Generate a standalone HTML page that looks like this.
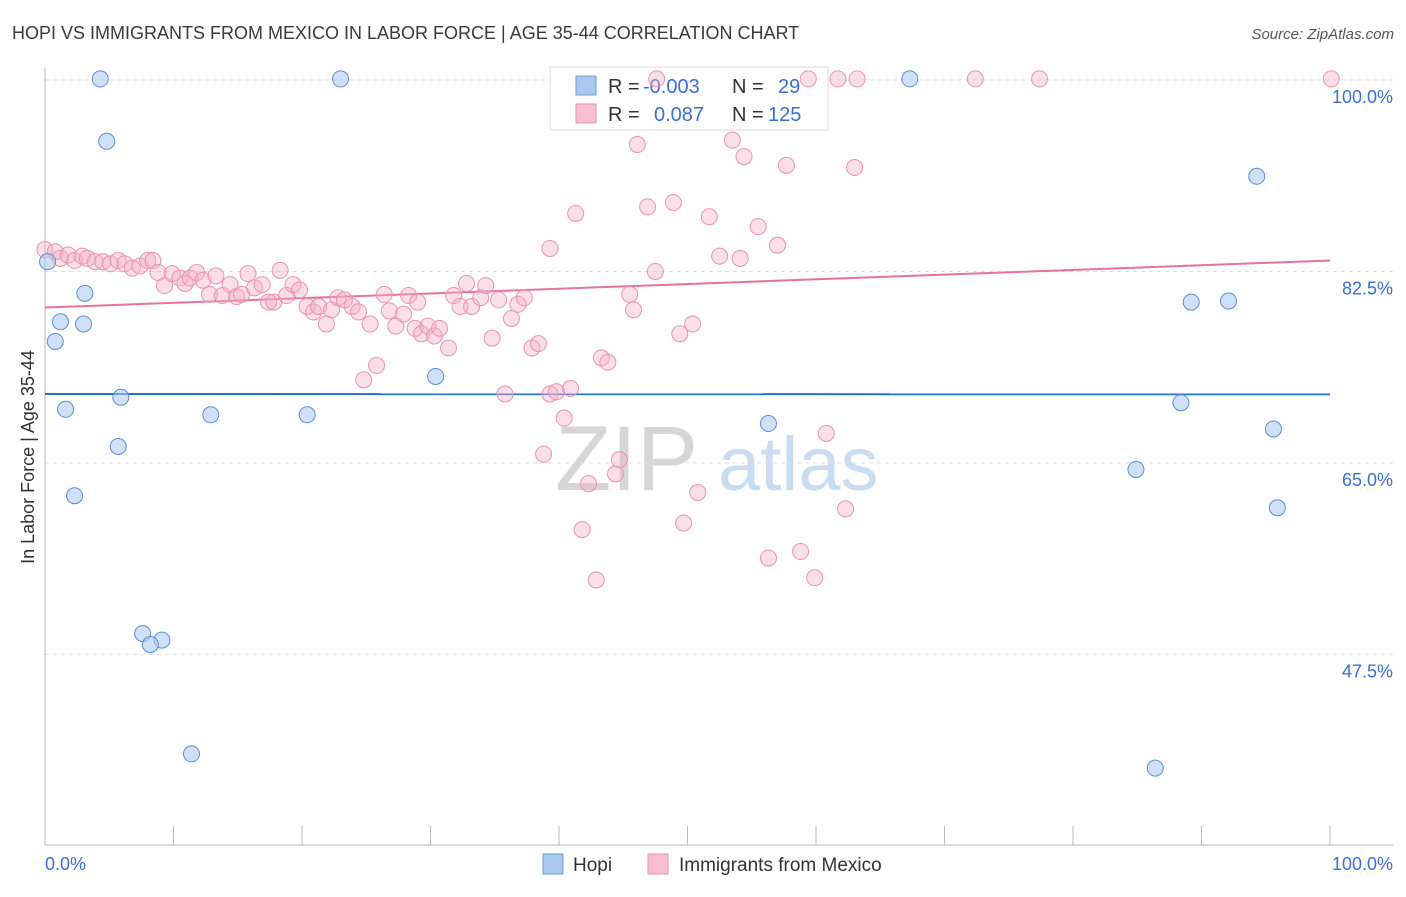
<!DOCTYPE html>
<html><head><meta charset="utf-8">
<style>
body{margin:0;background:#fff;font-family:"Liberation Sans",sans-serif;}
svg text{font-family:"Liberation Sans",sans-serif;}
</style></head>
<body>
<svg id="chart" width="1406" height="892" xmlns="http://www.w3.org/2000/svg">
<text x="12" y="39" font-size="18" fill="#3a3a3a">HOPI VS IMMIGRANTS FROM MEXICO IN LABOR FORCE | AGE 35-44 CORRELATION CHART</text>
<text x="1394" y="39" font-size="15" fill="#555" text-anchor="end" font-style="italic">Source: ZipAtlas.com</text>
<g>
<text x="555" y="490" font-size="92" fill="#d6d6d6" font-family="Liberation Serif,serif">ZIP</text>
<text x="718" y="490" font-size="76" fill="#c9dcf2">atlas</text>
</g>
<g id="grid"></g>
<g id="axes"></g>
<g>
<rect x="550" y="67" width="278" height="63" fill="#fff" stroke="#ddd"/>
<rect x="576" y="76" width="20" height="19" fill="#a9c8f0" stroke="#6d9bd8"/>
<rect x="576" y="104" width="20" height="19" fill="#f8bfd0" stroke="#ec93b0"/>
<text x="608" y="93" font-size="20" fill="#333">R = </text>
<text x="643" y="93" font-size="20" fill="#3b6fd1">-0.003</text>
<text x="732" y="93" font-size="20" fill="#333">N = </text>
<text x="778" y="93" font-size="20" fill="#3b6fd1">29</text>
<text x="608" y="121" font-size="20" fill="#333">R = </text>
<text x="654" y="121" font-size="20" fill="#3b6fd1">0.087</text>
<text x="732" y="121" font-size="20" fill="#333">N = </text>
<text x="768" y="121" font-size="20" fill="#3b6fd1">125</text>
</g>
<g id="trends"></g>
<g id="pts"></g>
<g>
<rect x="543" y="854" width="20" height="20" fill="#a9c8f0" stroke="#6d9bd8"/>
<text x="573" y="871" font-size="19" fill="#333">Hopi</text>
<rect x="648" y="854" width="20" height="20" fill="#f8bfd0" stroke="#ec93b0"/>
<text x="679" y="871" font-size="19" fill="#333">Immigrants from Mexico</text>
</g>
<text transform="translate(34,457) rotate(-90)" font-size="18" fill="#333" text-anchor="middle">In Labor Force | Age 35-44</text>
</svg>
<script>
const yTicks=[100,82.5,65,47.5];
const yTickLabels=["100.0%","82.5%","65.0%","47.5%"];
const xTickLabels=["0.0%","100.0%"];
const hopiX=[4.3,23.0,4.8,67.3,94.3,0.2,3.1,1.2,3.0,0.8,30.4,5.9,1.6,12.9,20.4,5.7,56.3,88.4,95.6,84.9,2.3,95.9,7.6,9.1,8.2,11.4,86.4,89.2,92.1];
const hopiY=[100.1,100.1,94.4,100.1,91.2,83.4,80.5,77.9,77.7,76.1,72.9,71.0,69.9,69.4,69.4,66.5,68.6,70.5,68.1,64.4,62.0,60.9,49.4,48.8,48.4,38.4,37.1,79.7,79.8];
const mexX=[47.6,59.4,61.7,63.2,72.4,77.4,100.1,46.1,53.5,54.4,57.7,63.0,41.3,46.9,48.9,51.7,55.5,39.3,52.5,54.1,57.0,47.5,
0,0.8,1.2,1.8,2.3,2.9,3.3,3.9,4.5,5.1,5.7,6.2,6.8,7.4,8.0,8.4,8.8,9.3,9.9,10.5,10.9,11.3,11.8,12.3,12.8,13.3,13.8,14.4,14.9,15.3,15.8,16.3,16.9,17.4,17.8,18.3,18.8,19.3,19.8,20.4,20.9,21.3,21.9,22.3,22.8,23.3,23.9,24.4,24.8,25.3,25.8,26.4,26.8,27.3,27.9,28.3,28.8,29.0,29.3,29.8,30.3,30.7,31.4,31.8,32.3,32.8,33.2,33.9,34.3,34.8,35.3,35.8,36.3,36.8,37.3,37.9,38.4,38.8,39.3,39.8,40.4,40.9,41.8,42.3,42.9,43.3,43.8,44.4,44.7,45.5,45.8,49.4,49.7,50.4,50.8,56.3,58.8,59.9,60.8,62.3];
const mexY=[100.1,100.1,100.1,100.1,100.1,100.1,100.1,94.1,94.5,93.0,92.2,92.0,87.8,88.4,88.8,87.5,86.6,84.6,83.9,83.7,84.9,82.5,
84.5,84.3,83.7,84.0,83.5,83.9,83.7,83.4,83.4,83.2,83.5,83.2,82.8,83.0,83.5,83.5,82.4,81.2,82.3,81.9,81.4,81.9,82.4,81.7,80.4,82.1,80.3,81.3,80.2,80.4,82.3,81.0,81.3,79.7,79.7,82.6,80.3,81.3,80.8,79.3,78.8,79.3,77.7,79.0,80.1,79.9,79.3,78.8,72.6,77.7,73.9,80.4,78.9,77.5,78.6,80.3,77.3,79.7,76.8,77.5,76.6,77.3,75.5,80.3,79.3,81.4,79.3,80.1,81.2,76.4,79.9,71.3,78.2,79.5,80.1,75.5,75.9,65.8,71.3,71.5,69.1,71.8,58.9,63.1,54.3,74.6,74.2,64.0,65.3,80.4,79.0,76.8,59.5,77.7,62.3,56.3,56.9,54.5,67.7,60.8];
const hopiTrend=[71.3,71.27];
const mexTrend=[79.2,83.5];
const NS="http://www.w3.org/2000/svg";
const X=v=>45+v*12.85, Y=v=>80+(100-v)*10.94;
function mk(tag,attrs,parent){const e=document.createElementNS(NS,tag);for(const k in attrs)e.setAttribute(k,attrs[k]);parent.appendChild(e);return e;}
const grid=document.getElementById('grid'),axes=document.getElementById('axes'),tr=document.getElementById('trends'),pts=document.getElementById('pts');
yTicks.forEach((t,i)=>{
 const l=mk('line',{x1:45,x2:1393,y1:Y(t),y2:Y(t),stroke:'#ddd','stroke-dasharray':'4,4'},grid);
 
 
 const tx=mk('text',{x:1393,y:Y(t)+23,'font-size':18,fill:'#3b6fd1','text-anchor':'end'},grid);
 tx.textContent=yTickLabels[i];
 
 
});
mk('line',{x1:45,x2:45,y1:68,y2:845,stroke:'#bbb'},axes);
mk('line',{x1:45,x2:1393,y1:845,y2:845,stroke:'#bbb'},axes);
for(let i=0;i<=10;i++){const t=mk('line',{x1:X(i*10),x2:X(i*10),y1:826,y2:845,stroke:'#bbb'},axes);
 
 }
const xl0=mk('text',{x:45,y:870,'font-size':18,fill:'#3b6fd1'},axes);xl0.textContent=xTickLabels[0];


const xl1=mk('text',{x:1393,y:870,'font-size':18,fill:'#3b6fd1','text-anchor':'end'},axes);xl1.textContent=xTickLabels[1];


mexX.forEach((x,i)=>{const c=mk('circle',{cx:X(x),cy:Y(mexY[i]),r:8,fill:'rgba(246,176,198,0.4)',stroke:'#ec93b0','stroke-width':1},pts);
 
 });
hopiX.forEach((x,i)=>{const c=mk('circle',{cx:X(x),cy:Y(hopiY[i]),r:8,fill:'rgba(169,200,240,0.55)',stroke:'#5b8fd6','stroke-width':1},pts);
 
 });
const bt=mk('line',{x1:X(0),x2:X(100),y1:Y(hopiTrend[0]),y2:Y(hopiTrend[1]),stroke:'#2a6dd1','stroke-width':2},tr);


const pt=mk('line',{x1:X(0),x2:X(100),y1:Y(mexTrend[0]),y2:Y(mexTrend[1]),stroke:'#e8729a','stroke-width':2},tr);


</script>
</body></html>
